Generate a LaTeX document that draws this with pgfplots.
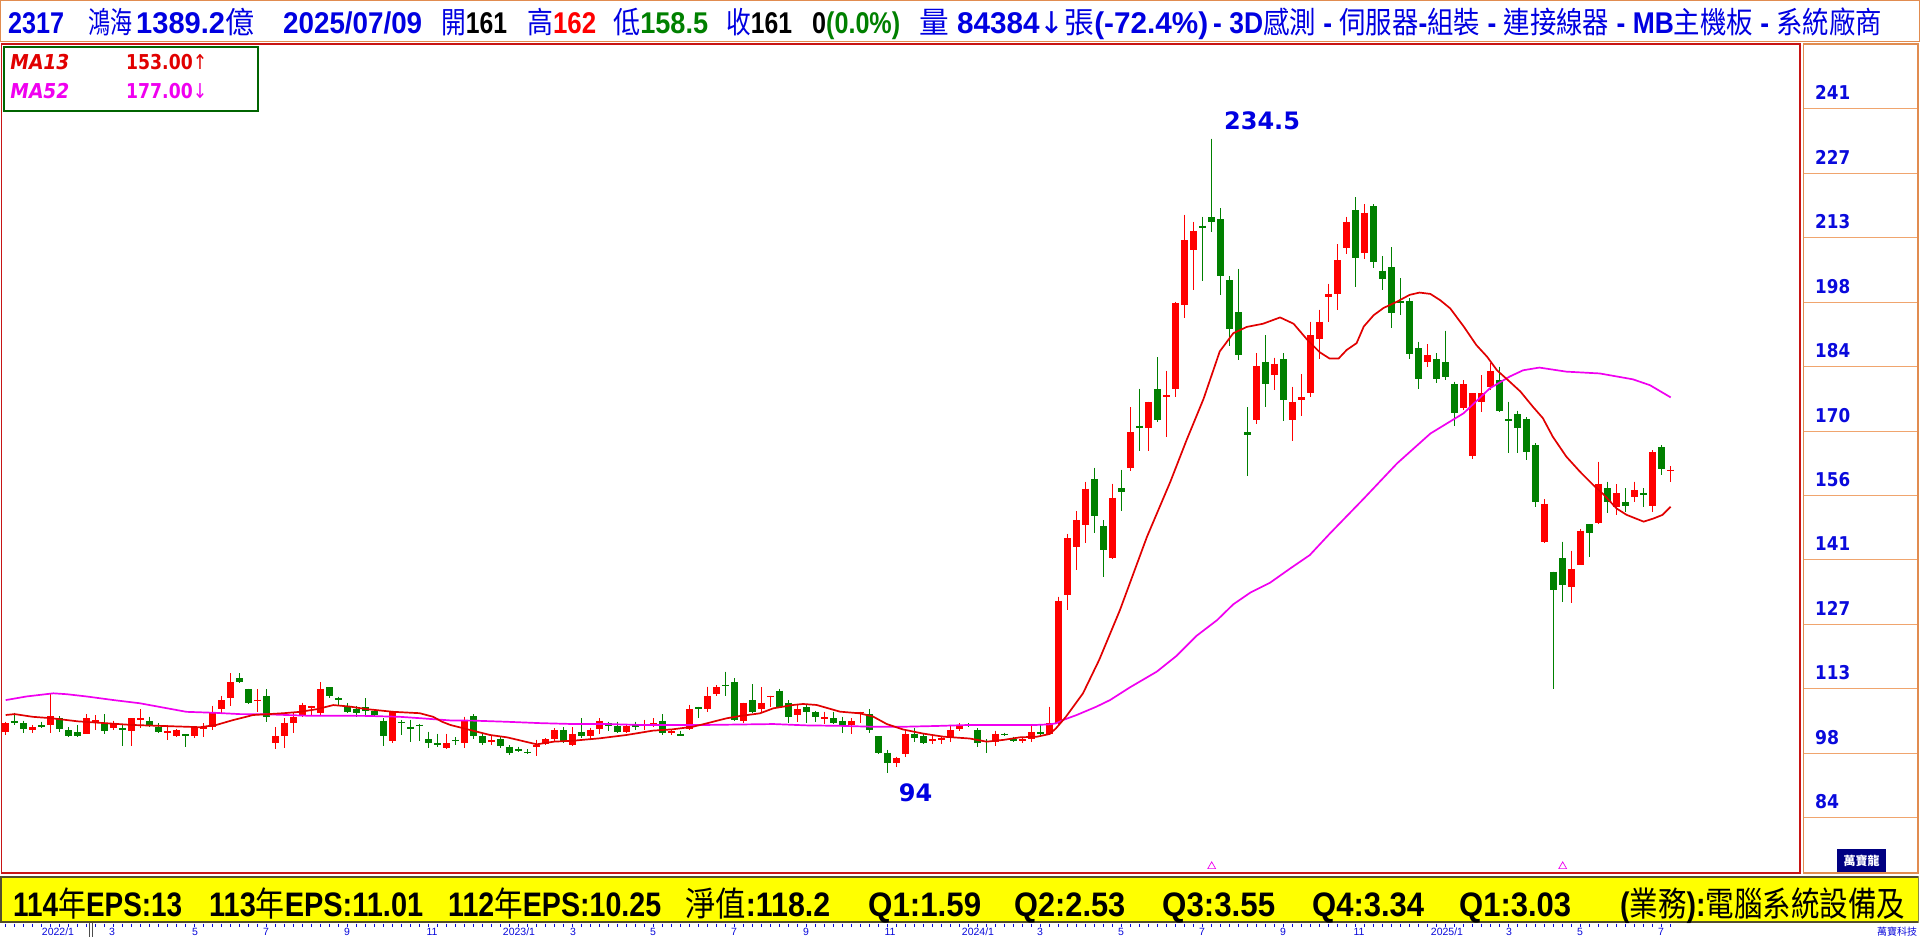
\documentclass[border=0pt]{standalone}
\usepackage{pgfplots}
\pgfplotsset{compat=1.18}
\usepackage{pgfplotstable}
\usepackage{graphicx}
\usepackage{fontspec}
\setmainfont{Liberation Sans}
\newfontfamily\cjk{Noto Sans CJK TC}
\newfontfamily\dv{DejaVu Sans}
\newfontfamily\dvsl[FakeSlant=0.18]{DejaVu Sans}

\definecolor{hdrblue}{RGB}{0,0,225}
\definecolor{upred}{RGB}{255,0,0}
\definecolor{dngreen}{RGB}{0,128,0}
\definecolor{maA}{RGB}{225,0,0}
\definecolor{maB}{RGB}{240,0,240}
\definecolor{frameorange}{RGB}{225,140,80}
\definecolor{framered}{RGB}{200,20,20}
\definecolor{legendgreen}{RGB}{0,100,0}
\definecolor{gridorange}{RGB}{240,165,110}
\definecolor{tickblue}{RGB}{10,10,220}
\definecolor{epsyellow}{RGB}{255,255,0}
\definecolor{navy}{RGB}{0,0,130}

\newcommand\C[1]{{\cjk\mdseries #1}}
% header segment: left x, width, text
\newcommand\hdr[3]{\node[anchor=base west, inner sep=0pt, text=hdrblue]
  at (#1,904.5) {\resizebox{#2pt}{\height}{\fontsize{30}{33}\selectfont\bfseries #3}};}
% yellow bar segment
\newcommand\eps[3]{\node[anchor=base west, inner sep=0pt, text=black]
  at (#1,22) {\resizebox{#2pt}{\height}{\fontsize{34}{38}\selectfont\bfseries #3}};}
\newcommand\ylab[3]{\node[anchor=base west, inner sep=0pt, text=tickblue]
  at (axis cs:0.102,#1) {\resizebox{#2pt}{\height}{\dv\bfseries\fontsize{19}{20}\selectfont #3}};}

\pgfplotsset{
  candle/.style 2 args={only marks, mark=*, mark size=0pt,
    mark options={draw=none, fill=none},
    error bars/.cd, y dir=minus, y explicit, error mark=none,
    error bar style={draw=#1, line width=#2, line cap=butt}},
}

% weekly candles: up weeks (red) and down weeks (green)
\pgfplotstableread{
i O H L C
0 103.21 105.43 102.48 105.06
3 103.58 104.69 102.99 104.17
5 104.69 111.70 102.99 106.68
9 102.77 107.12 102.62 106.17
10 105.35 106.90 103.58 105.75
12 103.95 105.65 103.58 105.21
14 103.29 106.17 100.11 106.17
15 105.85 108.16 103.95 106.25
18 103.00 104.69 101.37 103.40
19 102.33 103.73 102.11 103.58
21 102.33 104.17 101.74 104.17
22 103.80 105.06 102.11 104.20
23 104.17 108.90 103.58 107.27
24 108.23 111.11 107.27 110.22
25 110.74 116.13 108.97 114.13
28 109.90 112.58 107.49 110.30
30 100.78 104.17 99.45 102.25
31 102.33 106.17 99.67 105.21
32 105.21 107.42 102.99 106.39
33 106.75 109.63 106.53 109.12
34 108.38 108.97 106.90 108.80
35 107.27 114.13 106.75 112.66
43 101.22 107.79 100.63 107.79
49 99.67 102.70 99.30 100.63
51 100.78 106.53 99.67 105.58
54 100.90 102.48 100.26 101.30
59 99.80 101.37 97.90 100.20
60 100.41 101.74 100.26 101.52
61 101.66 103.95 101.00 103.58
63 100.26 104.17 100.11 102.62
65 102.33 104.10 101.52 103.58
66 103.73 106.17 102.70 105.58
69 103.21 104.69 102.85 104.47
71 104.45 105.80 103.58 104.85
72 104.82 106.17 104.32 105.22
74 102.99 103.58 102.48 103.40
76 103.80 109.12 103.58 108.16
78 108.23 113.17 107.49 111.11
79 111.55 113.54 111.11 113.03
82 105.65 109.63 105.06 109.63
84 108.16 113.03 107.27 109.63
85 110.80 111.20 108.75 111.20
88 106.83 109.12 105.43 108.16
91 106.00 107.64 104.91 106.40
94 104.62 106.17 102.62 105.58
95 107.26 107.66 105.21 107.66
99 96.35 97.68 95.47 97.31
100 98.20 103.58 97.68 102.70
103 101.20 102.25 100.48 101.60
104 101.43 102.25 100.48 101.83
105 101.74 104.69 101.00 103.58
106 103.73 105.06 103.44 104.47
110 101.00 103.44 100.04 102.70
113 101.21 102.11 100.63 101.61
114 101.59 104.47 101.00 103.14
116 102.62 108.75 102.40 105.06
117 105.06 133.09 104.47 132.21
118 133.46 147.00 130.14 146.00
119 144.00 152.00 139.00 150.00
120 149.00 158.50 145.00 157.00
123 141.74 158.10 141.47 155.04
125 161.60 175.00 160.99 169.48
127 170.36 176.22 165.37 176.22
129 177.20 183.05 168.52 177.70
130 179.11 198.36 177.36 198.10
131 197.75 217.62 194.86 211.93
132 209.74 216.04 200.99 214.03
139 172.28 186.99 171.41 184.10
141 182.17 186.02 178.85 184.62
143 172.28 179.55 167.47 176.22
144 176.68 182.35 172.98 177.18
145 178.23 193.99 177.36 190.92
146 190.22 196.61 185.67 193.99
147 199.41 202.30 193.99 200.11
148 200.11 211.05 196.61 207.55
149 210.18 217.18 209.04 216.04
151 209.23 220.00 207.82 218.08
158 185.10 189.01 183.99 186.58
162 174.77 181.04 174.40 180.16
163 164.22 178.09 163.48 178.09
164 176.25 182.15 174.03 178.09
165 179.57 184.73 178.83 183.04
171 145.26 154.63 145.04 153.60
174 135.30 143.27 131.61 139.21
175 140.10 148.00 140.10 147.70
177 149.32 162.97 149.17 158.03
179 153.01 158.03 151.17 155.96
181 155.22 158.54 154.12 156.70
183 153.23 165.55 151.90 165.04
185 160.80 162.00 158.50 161.20
}\uptab

\pgfplotstableread{
i O H L C
1 105.58 107.42 104.69 105.18
2 105.06 105.65 102.99 103.73
4 104.65 105.43 104.10 104.25
6 106.17 106.68 103.21 103.73
7 103.58 104.17 102.11 102.25
8 103.14 104.69 102.11 102.25
11 105.06 107.12 102.70 103.29
13 104.03 104.69 100.11 103.63
16 105.58 106.53 104.32 104.69
17 104.32 105.06 102.85 103.21
20 102.60 102.60 99.75 102.20
26 115.02 116.13 113.91 114.28
27 112.66 112.66 109.34 109.63
29 111.11 112.58 105.43 106.39
36 113.03 113.03 110.59 111.18
37 110.60 110.96 109.12 110.20
38 108.60 109.48 107.27 107.64
39 108.16 108.90 106.53 107.27
40 108.60 110.59 106.53 107.86
41 107.79 108.01 106.53 106.83
42 105.65 106.17 100.11 102.33
44 105.45 105.80 102.48 105.05
45 104.32 105.80 101.00 103.73
46 104.78 104.91 101.22 104.38
47 101.52 103.21 99.53 100.78
48 100.63 102.70 99.89 100.23
50 101.46 101.96 100.26 101.06
52 106.68 107.12 101.52 102.33
53 102.25 102.85 100.26 100.78
55 101.52 101.96 99.53 100.11
56 99.89 100.26 98.05 98.57
57 99.38 99.89 98.79 98.98
58 98.80 99.30 98.20 98.40
62 103.58 104.17 100.78 101.15
64 103.14 106.17 101.74 102.33
67 105.06 105.43 103.44 104.47
68 104.47 105.43 102.99 103.21
70 104.70 105.43 103.58 104.30
73 105.58 107.12 102.48 102.85
75 102.70 103.44 102.25 102.30
77 108.68 108.68 106.17 108.28
80 113.63 116.49 111.18 113.23
81 114.13 115.02 105.58 105.80
83 110.22 113.69 107.27 107.64
86 112.29 112.66 108.38 108.75
87 109.63 110.22 105.06 106.39
89 108.60 109.12 105.06 107.64
90 107.57 107.79 105.43 106.39
92 106.17 107.64 104.91 105.21
93 105.58 106.53 102.99 104.69
96 107.05 108.16 102.99 103.58
97 102.25 102.25 98.27 98.42
98 98.57 99.16 94.00 96.21
101 102.70 103.95 101.00 101.74
102 102.25 102.70 100.48 100.78
107 104.85 105.06 104.32 104.45
108 103.58 103.95 99.75 100.78
109 101.24 101.52 98.57 100.84
111 102.79 102.99 102.25 102.39
112 101.64 102.11 101.00 101.24
115 103.14 104.69 102.33 102.62
121 159.15 161.60 147.16 150.93
122 148.74 149.96 137.54 143.49
124 157.05 161.17 151.98 156.18
126 170.97 179.11 165.37 170.36
128 179.02 186.11 171.85 172.28
133 215.20 217.18 203.00 214.70
134 217.09 234.50 213.85 216.13
135 216.65 219.10 199.94 204.05
136 203.18 204.05 188.47 192.24
137 195.99 205.63 185.50 186.55
138 169.48 175.00 159.85 168.78
140 185.06 190.92 175.00 180.25
142 185.67 186.99 172.02 176.66
150 218.67 221.47 201.55 208.12
152 219.56 220.00 205.76 207.23
153 205.24 208.49 200.96 203.32
154 205.98 210.41 192.48 195.80
155 198.50 203.55 195.43 198.00
156 198.53 199.12 185.62 186.72
157 188.05 189.53 178.98 181.19
159 185.62 186.95 180.45 181.19
160 184.95 191.96 181.04 181.78
161 180.16 180.67 170.86 173.66
166 181.04 183.99 174.03 174.25
167 172.40 176.25 164.96 172.00
168 173.52 174.25 164.96 170.34
169 172.34 172.78 163.33 165.18
170 166.66 167.03 153.01 154.12
172 138.62 138.62 112.58 134.57
173 141.57 145.26 131.98 135.67
176 149.17 149.17 141.94 147.25
178 157.07 158.54 151.53 154.12
180 153.97 157.07 151.90 153.23
182 156.05 157.07 153.01 155.65
184 166.14 166.66 160.02 161.27
}\dntab

\begin{document}
\begin{tikzpicture}[x=1pt,y=1pt]
\path[use as bounding box, fill=white] (0,0) rectangle (1920,938);

% header frame and text
\draw[frameorange, line width=1.2pt] (0.6,937.4) rectangle (1919.4,896.5);
\hdr{8}{56}{2317}
\hdr{88}{44}{\C{鴻海}}
\hdr{136}{118}{1389.2\C{億}}
\hdr{283}{139}{2025/07/09}
\hdr{441}{66}{\C{開}\textcolor{black}{161}}
\hdr{527}{69}{\C{高}\textcolor{upred}{162}}
\hdr{613}{95}{\C{低}\textcolor{dngreen}{158.5}}
\hdr{726}{66}{\C{收}\textcolor{black}{161}}
\hdr{812}{88}{\textcolor{black}{0}\textcolor{dngreen}{(0.0\%)}}
\hdr{919}{289}{\C{量} 84384{\dv\mdseries ↓}\C{張}(-72.4\%)}
\hdr{1213}{669}{- 3D\C{感測} - \C{伺服器}-\C{組裝} - \C{連接線器} - MB\C{主機板} - \C{系統廠商}}

% main price panel
\begin{axis}[
  at={(1.3pt,65pt)}, anchor=south west,
  width=1798.7pt, height=829pt, scale only axis,
  xmin=-0.49, xmax=199.37, ymin=71.93, ymax=255.42,
  axis line style={framered, line width=1.4pt},
  xtick=\empty, ytick=\empty, clip=true,
]
% wicks
\addplot[candle={upred}{1.2pt}]
  table[x=i, y=H, y error minus expr={\thisrow{H}-\thisrow{L}}] {\uptab};
\addplot[candle={dngreen}{1.2pt}]
  table[x=i, y=H, y error minus expr={\thisrow{H}-\thisrow{L}}] {\dntab};
% bodies
\addplot[candle={upred}{7pt}]
  table[x=i, y=C, y error minus expr={\thisrow{C}-\thisrow{O}}] {\uptab};
\addplot[candle={dngreen}{7pt}]
  table[x=i, y=O, y error minus expr={\thisrow{O}-\thisrow{C}}] {\dntab};

% MA52
\addplot[maB, line width=1.7pt, mark=none] coordinates {
(0,110.2) (2.3,111.0) (5.3,111.7) (6.8,111.5) (9,111.0) (12,110.2) (14.9,109.5)
(17.9,108.4) (20.1,107.6) (23.1,107.4) (26,107.1) (29,107.05) (31.2,106.9)
(33.4,106.75) (36.4,106.75) (40.1,106.7) (43.8,106.5) (46,106.2) (49.4,105.7)
(52,105.65) (55.7,105.4) (59.4,105.1) (63.1,104.9) (66.8,104.9) (70.5,104.7)
(74.2,104.7) (77.9,104.7) (81.6,104.8) (85.3,104.9) (89,104.6) (92.7,104.5)
(96.4,104.3) (99.7,104.3) (103.4,104.47) (107.1,104.7) (110.8,104.7) (114.5,104.7)
(116,104.83) (116.7,105.06) (117.5,105.8) (119,106.9) (121.2,108.75) (122.7,110.2)
(124.9,113.0) (127.9,116.5) (130.1,120.0) (132.3,124.4) (134.6,127.9) (136.4,131.4)
(138.3,134.0) (140.5,136.2) (142.7,139.3) (144.9,142.3) (147.1,147.0) (150.9,154.8)
(154.6,162.6) (158.3,169.2) (162,173.7) (164.9,179.2) (167.1,181.8) (168.6,183.2)
(170.4,183.8) (173.4,182.9) (177.1,182.5) (180.8,181.2) (182.7,179.9) (185,177.2)
};
% MA13
\addplot[maA, line width=1.7pt, mark=none] coordinates {
(0,106.9) (1,107.1) (3,106.5) (5,106.2) (8,105.5) (14,104.7) (21.6,104.2) (23.4,104.7)
(25.3,105.8) (27.5,106.9) (30.9,107.3) (32.7,107.6) (34.6,108.2) (36.4,109.1)
(38.3,108.75) (40.1,108.2) (43.1,107.6) (46,107.3) (47.5,106.5) (48.5,105.4)
(49.4,104.7) (51.6,103.58) (53.8,102.48) (55.7,101.96) (59,100.41) (60.9,101.0)
(63.1,101.22) (66,101.74) (69,102.48) (71.9,103.44) (74.1,103.73) (76.4,104.32)
(77.9,105.06) (80.1,106.17) (81.6,106.68) (83.8,107.27) (85.3,108.38) (87.5,109.12)
(88.6,109.34) (90.1,109.12) (92.7,107.64) (94.9,107.27) (96.4,106.53) (97.9,104.9)
(99.7,103.7) (101.9,102.8) (104.2,102.1) (107.1,101.7) (109,101.0) (110.9,101.4)
(112.7,101.96) (114.6,102.1) (116,102.7) (116.7,103.95) (117.8,106.5) (119.7,111.7)
(121.5,119.1) (123.8,130.1) (126.8,146.3) (129.4,158.5) (131.2,167.7) (133.1,176.9)
(134.9,187.4) (136.4,191.4) (137.9,192.8) (139.7,193.5) (141.6,194.9) (143.1,193.5)
(144.6,190.0) (146,187.2) (147.1,185.8) (148.1,185.8) (149,187.7) (150.1,189.2)
(150.9,192.9) (152,195.4) (153.1,197.0) (154.6,198.4) (156,199.9) (157.1,200.4)
(158.3,200.1) (159.4,198.7) (160.5,196.9) (162,192.9) (163.4,188.8) (164.6,186.2)
(165.7,183.2) (167.1,180.7) (168.3,178.5) (169.7,175.1) (170.8,172.6) (171.9,168.5)
(173.4,164.1) (174.9,160.8) (176.4,157.8) (177.5,155.8) (179,152.6) (180.1,151.2)
(182,149.7) (183.1,150.4) (184.1,151.2) (185,153.0)
};
% markers at the bottom edge
\addplot[only marks, mark=triangle, mark size=4.5pt, color=maB, line width=0.7pt]
  coordinates {(134,73.4) (173,73.4)};

\node[text=hdrblue, font=\dv\bfseries\fontsize{24}{26}\selectfont] at (axis cs:139.6,238.4) {234.5};
\node[text=hdrblue, font=\dv\bfseries\fontsize{24}{26}\selectfont] at (axis cs:101.1,89.6) {94};
\end{axis}

% right scale panel
\begin{axis}[
  at={(1803.3pt,65pt)}, anchor=south west,
  width=114.7pt, height=829pt, scale only axis,
  xmin=0, xmax=1, ymin=71.93, ymax=255.42,
  axis line style={frameorange, line width=1.2pt},
  xtick=\empty,
  ytick={84.15,98.42,112.68,126.95,141.21,155.48,169.74,184.01,198.27,212.54,226.80,241.07},
  yticklabels={}, major tick length=0pt,
  ymajorgrids, grid style={gridorange, line width=1pt},
]
\ylab{243.07}{35}{241}
\ylab{228.80}{35}{227}
\ylab{214.54}{35}{213}
\ylab{200.27}{35}{198}
\ylab{186.01}{35}{184}
\ylab{171.74}{35}{170}
\ylab{157.48}{35}{156}
\ylab{143.21}{35}{141}
\ylab{128.95}{35}{127}
\ylab{114.68}{35}{113}
\ylab{100.42}{24}{98}
\ylab{86.15}{24}{84}
\end{axis}

% legend box
\draw[legendgreen, line width=1.2pt, fill=white] (4,891) rectangle (258,827);
\node[anchor=base west, inner sep=0pt, text=maA] at (9,868)
  {\resizebox{59pt}{\height}{\dvsl\bfseries\fontsize{20.5}{22}\selectfont MA13}};
\node[anchor=base west, inner sep=0pt, text=maA] at (126,868)
  {\resizebox{81pt}{\height}{\dv\bfseries\fontsize{20.5}{22}\selectfont 153.00\mdseries↑}};
\node[anchor=base west, inner sep=0pt, text=maB] at (9,839)
  {\resizebox{59pt}{\height}{\dvsl\bfseries\fontsize{20.5}{22}\selectfont MA52}};
\node[anchor=base west, inner sep=0pt, text=maB] at (126,839)
  {\resizebox{81pt}{\height}{\dv\bfseries\fontsize{20.5}{22}\selectfont 177.00\mdseries↓}};

% logo
\fill[navy] (1837,66) rectangle (1886,89);
\node[text=white, font=\cjk\bfseries\fontsize{12}{13}\selectfont] at (1861.5,77.5) {萬寶龍};

% EPS bar
\begin{scope}
\clip (0,0) rectangle (1918.5,938);
\fill[epsyellow] (0.8,61) rectangle (1919.2,16);
\draw[black!55!olive, line width=1.5pt] (0.8,61) rectangle (1919.2,16);
\eps{13}{169}{114\C{年}EPS:13}
\eps{209}{214}{113\C{年}EPS:11.01}
\eps{448}{213}{112\C{年}EPS:10.25}
\eps{685}{145}{\C{淨值}:118.2}
\eps{868}{113}{Q1:1.59}
\eps{1014}{111}{Q2:2.53}
\eps{1162}{113}{Q3:3.55}
\eps{1312}{112}{Q4:3.34}
\eps{1459}{112}{Q1:3.03}
\eps{1620}{285}{(\C{業務}):\C{電腦系統設備及}}
\end{scope}

% week ticks and month labels
\foreach \k in {0,...,185} \draw[tickblue, line width=0.7pt] ({5.7+9*\k},14.5) -- ({5.7+9*\k},11.5);
\draw[black!70, line width=0.8pt] (89,15) -- (89,1) (92,15) -- (92,1);
\foreach \xx/\tt in {58/2022\slash 1,112/3,195/5,266/7,347/9,432/11,519/2023\slash 1,573/3,653/5,734/7,806/9,890/11,
  978/2024\slash 1,1040/3,1121/5,1202/7,1283/9,1359/11,1447/2025\slash 1,1509/3,1580/5,1661/7}
  \node[text=tickblue, inner sep=0pt, font=\fontsize{10.5}{12}\selectfont] at (\xx,6.5) {\tt};
\node[text=tickblue, inner sep=0pt, font=\cjk\fontsize{10}{11}\selectfont] at (1897,6.5) {萬寶科技};
\end{tikzpicture}
\end{document}
